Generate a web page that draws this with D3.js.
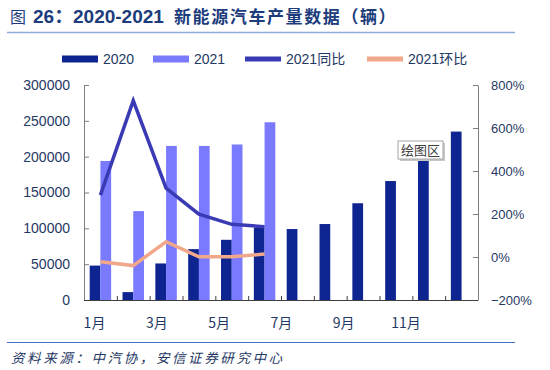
<!DOCTYPE html>
<html lang="zh">
<head>
  <meta charset="UTF-8">
  <title>2020-2021 新能源汽车产量数据</title>
  <script src="https://d3js.org/d3.v7.min.js"></script>
  <style>
    body { margin: 0; background: #fff; }
    text { font-family: "Liberation Sans", Arial, "Noto Sans CJK SC", sans-serif; }
    .cjk { font-family: "Noto Sans CJK SC", sans-serif; }
  </style>
</head>
<body>
  <script>
    // Data
    var months = ["1月", "2月", "3月", "4月", "5月", "6月", "7月", "8月", "9月", "10月", "11月", "12月"];
    var prod2020 = [48000, 11000, 51000, 71000, 84000, 101000, 99000, 106000, 135000, 166000, 198000, 235000];
    var prod2021 = [194000, 124000, 215000, 215000, 217000, 248000];
    var yoy2021 = [288, 727, 320, 199, 152, 141];   // %
    var mom2021 = [-22, -40, 71, 1, 1, 14];         // %
    var leftTicks = [0, 50000, 100000, 150000, 200000, 250000, 300000];
    var rightTicks = [-200, 0, 200, 400, 600, 800];
    var xLabels = ["1月", "3月", "5月", "7月", "9月", "11月"];

    var w = 550, h = 370;
    // plot area (note: "top" is reserved on window, so use pl/pr/pt/pb)
    var pl = 84, pr = 478, pt = 85, pb = 300;
    var navy = "#1f3864", titleCol = "#1c3c7c";
    var c2020 = "#0e2490", c2021 = "#7a7aff", cYoy = "#3a3ab4", cMom = "#f1a78a";

    var svg = d3.select("body").append("svg")
      .attr("width", w)
      .attr("height", h);

    // Title
    svg.append("text").attr("class", "cjk")
      .attr("x", 10).attr("y", 23).attr("font-size", 16).attr("fill", titleCol)
      .text("图");
    svg.append("text")
      .attr("x", 33).attr("y", 23).attr("font-size", 19).attr("font-weight", "bold").attr("fill", titleCol)
      .text("26：");
    svg.append("text")
      .attr("x", 73).attr("y", 23).attr("font-size", 19).attr("font-weight", "bold").attr("fill", titleCol)
      .text("2020-2021");
    svg.append("text").attr("class", "cjk")
      .attr("x", 174).attr("y", 23).attr("font-size", 17).attr("font-weight", "bold")
      .attr("letter-spacing", 1.6).attr("fill", titleCol)
      .text("新能源汽车产量数据（辆）");

    svg.append("line")
      .attr("x1", 7).attr("x2", 515).attr("y1", 32.5).attr("y2", 32.5)
      .attr("stroke", "#8faadc").attr("stroke-width", 1.5);

    // Scales
    var x = d3.scaleBand().domain(months).range([pl, pr]);
    var xs = d3.scaleBand().domain(["2020", "2021"]).range([0, x.bandwidth()]).paddingOuter(0.53);
    var yL = d3.scaleLinear().domain([0, 300000]).range([pb, pt]);
    var yR = d3.scaleLinear().domain([-200, 800]).range([pb, pt]);
    var labelX = d3.scaleLinear().domain([0, 10]).range([94.5, 406]);

    // Axes
    var axL = svg.append("g")
      .attr("transform", "translate(" + pl + ",0)")
      .call(d3.axisLeft(yL).tickValues(leftTicks).tickSizeInner(-5).tickSizeOuter(0).tickPadding(14)
        .tickFormat(d3.format("d")));
    axL.selectAll("text").attr("font-size", 14).attr("fill", navy);
    axL.selectAll("line, path").attr("stroke", "#7f7f7f");

    var axR = svg.append("g")
      .attr("transform", "translate(" + pr + ",0)")
      .call(d3.axisRight(yR).tickValues(rightTicks).tickSizeInner(-5).tickSizeOuter(0).tickPadding(13)
        .tickFormat(function(d) { return (d < 0 ? "−" : "") + Math.abs(d) + "%"; }));
    axR.selectAll("text").attr("font-size", 13).attr("fill", navy);
    axR.selectAll("line, path").attr("stroke", "#7f7f7f");

    // Bars
    svg.append("g").selectAll("rect")
      .data(prod2020)
      .enter()
      .append("rect")
      .attr("x", function(d, i) { return x(months[i]) + xs("2020"); })
      .attr("y", function(d) { return yL(d); })
      .attr("width", xs.bandwidth())
      .attr("height", function(d) { return pb - yL(d); })
      .attr("fill", c2020);

    svg.append("g").selectAll("rect")
      .data(prod2021)
      .enter()
      .append("rect")
      .attr("x", function(d, i) { return x(months[i]) + xs("2021"); })
      .attr("y", function(d) { return yL(d); })
      .attr("width", xs.bandwidth())
      .attr("height", function(d) { return pb - yL(d); })
      .attr("fill", c2021);

    // Bottom axis line with ticks at band edges
    svg.append("line")
      .attr("x1", pl).attr("x2", pr).attr("y1", pb + 0.5).attr("y2", pb + 0.5)
      .attr("stroke", "#404040");
    svg.append("g").selectAll("line")
      .data(months.slice(1))
      .enter()
      .append("line")
      .attr("x1", function(d) { return x(d) + 0.5; })
      .attr("x2", function(d) { return x(d) + 0.5; })
      .attr("y1", pb).attr("y2", pb - 4)
      .attr("stroke", "#404040");

    svg.append("g").selectAll("text")
      .data(xLabels)
      .enter()
      .append("text")
      .attr("class", "cjk")
      .attr("x", function(d) { return labelX(months.indexOf(d)); })
      .attr("y", 328)
      .attr("text-anchor", "middle")
      .attr("font-size", 14)
      .attr("fill", navy)
      .text(function(d) { return d; });

    // Lines
    var line = d3.line()
      .x(function(d, i) { return x(months[i]) + x.bandwidth() / 2; })
      .y(function(d) { return yR(d); });

    svg.append("path")
      .datum(mom2021)
      .attr("d", line)
      .attr("fill", "none")
      .attr("stroke", cMom)
      .attr("stroke-width", 3.5);

    svg.append("path")
      .datum(yoy2021)
      .attr("d", line)
      .attr("fill", "none")
      .attr("stroke", cYoy)
      .attr("stroke-width", 3.5);

    // Legend
    var legend = [
      { name: "2020", color: c2020, x: 62, h: 7 },
      { name: "2021", color: c2021, x: 153, h: 7 },
      { name: "2021同比", color: cYoy, x: 245, h: 5 },
      { name: "2021环比", color: cMom, x: 367, h: 5 }
    ];
    var lg = svg.append("g").selectAll("g")
      .data(legend)
      .enter()
      .append("g");
    lg.append("rect")
      .attr("x", function(d) { return d.x; })
      .attr("y", function(d) { return 59 - d.h / 2; })
      .attr("width", 36)
      .attr("height", function(d) { return d.h; })
      .attr("fill", function(d) { return d.color; });
    lg.append("text")
      .attr("x", function(d) { return d.x + 41; })
      .attr("y", 64)
      .attr("font-size", 14)
      .attr("fill", navy)
      .text(function(d) { return d.name; });

    // "绘图区" hover box
    svg.append("rect")
      .attr("x", 400).attr("y", 143).attr("width", 45).attr("height", 18)
      .attr("fill", "#c8c8c8");
    svg.append("rect")
      .attr("x", 398).attr("y", 141).attr("width", 45).attr("height", 18)
      .attr("fill", "#fff").attr("stroke", "#a6a6a6");
    svg.append("text")
      .attr("class", "cjk")
      .attr("x", 420.5).attr("y", 155)
      .attr("text-anchor", "middle")
      .attr("font-size", 13)
      .attr("fill", "#404040")
      .text("绘图区");

    // Source
    svg.append("line")
      .attr("x1", 7).attr("x2", 515).attr("y1", 342.5).attr("y2", 342.5)
      .attr("stroke", "#4472c4").attr("stroke-width", 1);
    svg.append("text")
      .attr("class", "cjk")
      .attr("x", 11).attr("y", 363)
      .attr("font-size", 13.5)
      .attr("letter-spacing", 2.6)
      .attr("font-style", "italic")
      .attr("fill", navy)
      .text("资料来源：中汽协，安信证券研究中心");
  </script>
</body>
</html>
